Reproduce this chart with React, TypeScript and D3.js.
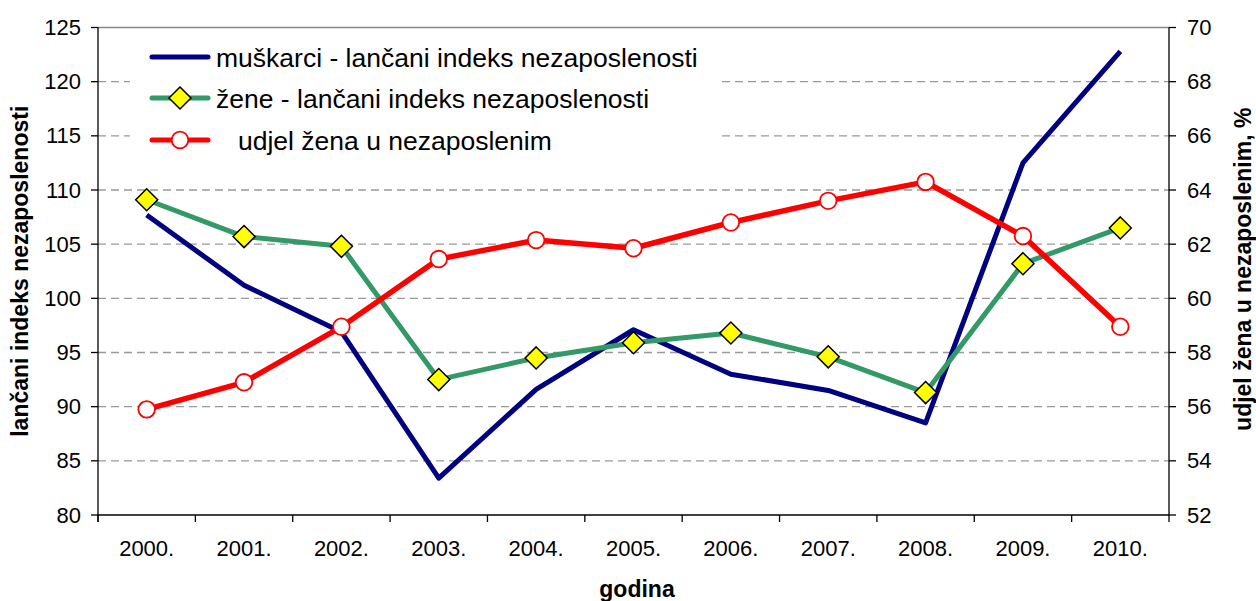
import { useMemo } from "react";
import * as d3 from "d3";

// kategorije (godine)
const years = ["2000.", "2001.", "2002.", "2003.", "2004.", "2005.", "2006.", "2007.", "2008.", "2009.", "2010."];

// lančani indeks nezaposlenosti - muškarci
const muskarci = [107.7, 101.2, 96.9, 83.4, 91.6, 97.1, 93.0, 91.5, 88.5, 112.5, 122.8];
// lančani indeks nezaposlenosti - žene
const zene = [109.1, 105.7, 104.8, 92.5, 94.5, 95.9, 96.8, 94.6, 91.3, 103.2, 106.5];
// udjel žena u nezaposlenima (%), desna os
const udjel = [55.9, 56.9, 58.95, 61.45, 62.15, 61.85, 62.8, 63.6, 64.3, 62.3, 58.95];

const leftTicks = [80, 85, 90, 95, 100, 105, 110, 115, 120, 125];
const rightTicks = [52, 54, 56, 58, 60, 62, 64, 66, 68, 70];

const legendLabels = [
  "muškarci - lančani indeks nezaposlenosti",
  "žene - lančani indeks nezaposlenosti",
  "udjel žena u nezaposlenim",
];

const W = 1256;
const H = 601;
const FONT = "'Liberation Sans', Arial, sans-serif";

export default function App() {
  const left = 98;
  const right = 1169;
  const top = 27.5;
  const bottom = 515;

  const x = useMemo(() => d3.scaleBand<string>().domain(years).range([left, right]).padding(0), []);
  const yL = useMemo(() => d3.scaleLinear().domain([80, 125]).range([bottom, top]), []);
  const yR = useMemo(() => d3.scaleLinear().domain([52, 70]).range([bottom, top]), []);

  const cx = (i: number) => x(years[i])! + x.bandwidth() / 2;

  const lineL = d3.line<number>().x((_, i) => cx(i)).y((d) => yL(d));
  const lineR = d3.line<number>().x((_, i) => cx(i)).y((d) => yR(d));

  const diamond = (px: number, py: number, r = 11) =>
    `M${px},${py - r}L${px + r},${py}L${px},${py + r}L${px - r},${py}Z`;

  // legenda
  const legX0 = 152;
  const legX1 = 208;
  const legRows = [57, 98, 140];

  return (
    <svg width={W} height={H} style={{ position: "absolute", left: 0, top: 0, background: "#fff" }} fontFamily={FONT}>
      {/* mreža */}
      {leftTicks.slice(1, -1).map((t) => (
        <line key={t} x1={left} x2={right} y1={yL(t)} y2={yL(t)} stroke="#999" strokeWidth={1.3} strokeDasharray="8,5" />
      ))}
      <line x1={left} x2={right} y1={top} y2={top} stroke="#888" strokeWidth={1.3} />

      {/* legenda - bijela pozadina */}
      <rect x={130} y={36} width={588} height={128} fill="#fff" />
      {legendLabels.map((lab, i) => {
        const y = legRows[i];
        const color = ["#000080", "#339966", "#ff0000"][i];
        const mid = (legX0 + legX1) / 2;
        return (
          <g key={lab}>
            <line x1={legX0} x2={legX1} y1={y} y2={y} stroke={color} strokeWidth={5} strokeLinecap="round" />
            {i === 1 && <path d={diamond(mid, y)} fill="#ffff00" stroke="#000" strokeWidth={1.5} />}
            {i === 2 && <circle cx={mid} cy={y} r={8.3} fill="#fff" stroke="#ff0000" strokeWidth={1.8} />}
            <text x={i === 2 ? 238 : 216} y={y + 9.5} fontSize={26.5} fill="#000">
              {lab}
            </text>
          </g>
        );
      })}

      {/* osi */}
      <line x1={left} x2={left} y1={top} y2={bottom + 7} stroke="#000" strokeWidth={1.3} />
      <line x1={right} x2={right} y1={top} y2={bottom + 7} stroke="#000" strokeWidth={1.3} />
      <line x1={left} x2={right} y1={bottom} y2={bottom} stroke="#000" strokeWidth={1.3} />
      {leftTicks.map((t) => (
        <g key={"l" + t}>
          <line x1={left - 7} x2={left} y1={yL(t)} y2={yL(t)} stroke="#000" strokeWidth={1.3} />
          <text x={81} y={yL(t)} fontSize={22} textAnchor="end" dominantBaseline="central">
            {t}
          </text>
        </g>
      ))}
      {rightTicks.map((t) => (
        <g key={"r" + t}>
          <line x1={right} x2={right + 7} y1={yR(t)} y2={yR(t)} stroke="#000" strokeWidth={1.3} />
          <text x={1187} y={yR(t)} fontSize={22} textAnchor="start" dominantBaseline="central">
            {t}
          </text>
        </g>
      ))}
      {years.map((yr, i) => (
        <g key={yr}>
          <line x1={x(yr)!} x2={x(yr)!} y1={bottom} y2={bottom + 7} stroke="#000" strokeWidth={1.3} />
          <text x={cx(i)} y={556} fontSize={22} textAnchor="middle">
            {yr}
          </text>
        </g>
      ))}

      {/* naslovi osi */}
      <text x={637} y={597} fontSize={23} fontWeight="bold" textAnchor="middle">
        godina
      </text>
      <text
        transform={`translate(28,${(top + bottom) / 2}) rotate(-90)`}
        fontSize={23}
        fontWeight="bold"
        textAnchor="middle"
      >
        lančani indeks nezaposlenosti
      </text>
      <text
        transform={`translate(1251,${(top + bottom) / 2 - 2}) rotate(-90)`}
        fontSize={23}
        fontWeight="bold"
        textAnchor="middle"
      >
        udjel žena u nezaposlenim, %
      </text>

      {/* serije */}
      <path d={lineL(muskarci)!} fill="none" stroke="#000080" strokeWidth={5} strokeLinejoin="round" />
      <path d={lineL(zene)!} fill="none" stroke="#339966" strokeWidth={5} strokeLinejoin="round" />
      {zene.map((v, i) => (
        <path key={"z" + i} d={diamond(cx(i), yL(v))} fill="#ffff00" stroke="#000" strokeWidth={1.5} />
      ))}
      <path d={lineR(udjel)!} fill="none" stroke="#ff0000" strokeWidth={5.5} strokeLinejoin="round" />
      {udjel.map((v, i) => (
        <circle key={"u" + i} cx={cx(i)} cy={yR(v)} r={8.3} fill="#fff" stroke="#ff0000" strokeWidth={1.8} />
      ))}
    </svg>
  );
}
